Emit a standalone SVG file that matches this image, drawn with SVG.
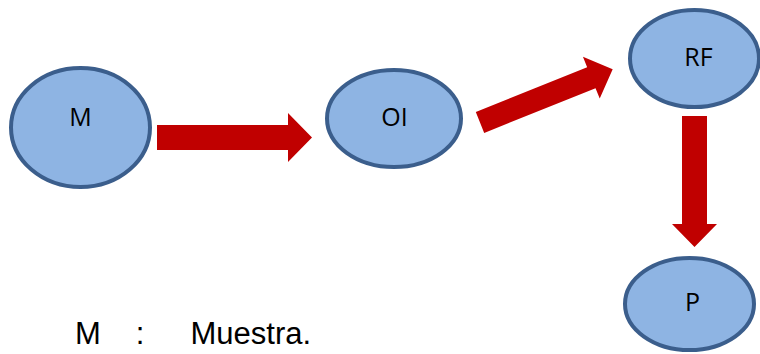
<svg xmlns="http://www.w3.org/2000/svg" width="760" height="354" viewBox="0 0 760 354">
  <style>
    .node { fill: #8EB4E3; stroke: #3B5E8C; stroke-width: 4; }
    .label { font-family: "Open Sans", "Noto Sans", sans-serif; font-size: 25px; fill: #000; text-anchor: middle; }
    .arrow { fill: #C00000; stroke: none; }
    .legend { font-family: "Liberation Sans", Arial, sans-serif; font-size: 31px; fill: #000; }
  </style>
  <rect width="760" height="354" fill="#FFFFFF"/>

  <!-- block arrows between stages -->
  <g id="connectors">
    <polygon class="arrow" points="157,125 288,125 288,113 312,137.5 288,162 288,150 157,150"/>
    <polygon class="arrow" transform="translate(480 122.5) rotate(-21.9)" points="0,-11.25 120,-11.25 120,-22.5 143,0 120,22.5 120,11.25 0,11.25"/>
    <polygon class="arrow" points="682,116 707,116 707,224 717,224 694.5,247 672,224 682,224"/>
  </g>

  <g id="node-M">
    <ellipse class="node" cx="80.5" cy="127.5" rx="69.5" ry="59.5"/>
    <text class="label" x="80.5" y="126">M</text>
  </g>

  <g id="node-OI">
    <ellipse class="node" cx="394" cy="118.5" rx="67" ry="48.5"/>
    <text class="label" x="394.5" y="126">OI</text>
  </g>

  <g id="node-RF">
    <ellipse class="node" cx="694.5" cy="58.5" rx="64.5" ry="48.5"/>
    <text class="label" x="698.5" y="66">RF</text>
  </g>

  <g id="node-P">
    <ellipse class="node" cx="689.5" cy="304" rx="64.5" ry="46"/>
    <text class="label" x="692.5" y="311">P</text>
  </g>

  <!-- legend line -->
  <g id="legend">
    <text class="legend" x="75" y="344">M</text>
    <text class="legend" x="140" y="344" text-anchor="middle">:</text>
    <text class="legend" x="190.5" y="344">Muestra.</text>
  </g>
</svg>
